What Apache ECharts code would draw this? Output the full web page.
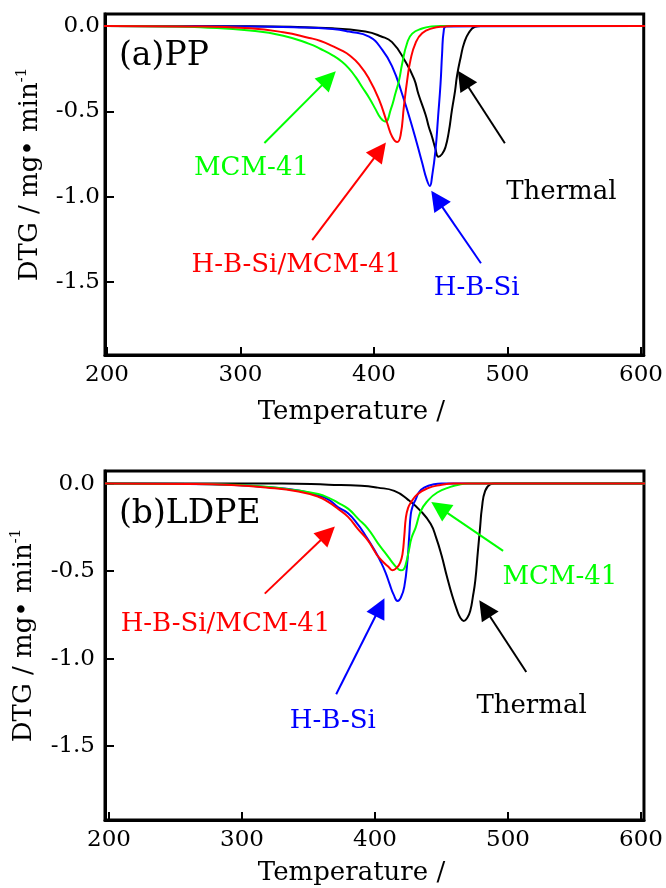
<!DOCTYPE html>
<html>
<head>
<meta charset="utf-8">
<script src="https://cdn.jsdelivr.net/npm/echarts@6/dist/echarts.min.js"></script>
<style>
  html, body { margin: 0; padding: 0; background: #fff; }
  #chart { width: 666px; height: 888px; }
</style>
</head>
<body>
<div id="chart"></div>
<script>
// series order: MCM-41, H-B-Si/MCM-41, H-B-Si, Thermal
var seriesNames = ['MCM-41', 'H-B-Si/MCM-41', 'H-B-Si', 'Thermal'];
var seriesColors = ['#00ff00', '#ff0000', '#0000ff', '#000000'];

var xTicks = [200, 300, 400, 500, 600];
var yTicks = [0, -0.5, -1, -1.5];

// (a) PP : [temperature, DTG]
var ppMcm = [[197, 0], [250, -0.003], [270, -0.008], [307, -0.027], [332, -0.057], [351.5, -0.105],
  [360, -0.135], [369, -0.172], [376, -0.21], [381.3, -0.25], [386.3, -0.30], [391.3, -0.36],
  [396.3, -0.42], [401.3, -0.49], [405, -0.54], [408.5, -0.56], [412.5, -0.49], [416.2, -0.39],
  [418.7, -0.32], [421.1, -0.22], [424.8, -0.10], [428.6, -0.045], [436, -0.015], [443, -0.003],
  [450, 0], [603, 0]];
var ppHbsMcm = [[197, 0], [260, -0.003], [307, -0.014], [332, -0.037], [351.5, -0.07], [360, -0.088],
  [369, -0.118], [376, -0.145], [381.3, -0.17], [388.8, -0.225], [396.3, -0.31], [403.7, -0.43],
  [409.9, -0.57], [413.7, -0.65], [417.4, -0.68], [419.9, -0.64], [422.4, -0.47], [424.8, -0.32],
  [427.3, -0.20], [431.1, -0.10], [436, -0.043], [443.5, -0.014], [453.5, -0.003], [460, 0], [603, 0]];
var ppHbs = [[197, 0], [300, -0.003], [340, -0.008], [369, -0.018], [381.3, -0.033], [396.3, -0.063],
  [406.2, -0.14], [413.7, -0.24], [421.1, -0.40], [428.6, -0.59], [436, -0.80], [439.5, -0.90],
  [441.8, -0.937], [443.5, -0.88], [446, -0.73], [448, -0.53], [449.8, -0.34], [451, -0.16],
  [452.2, -0.03], [454, -0.003], [603, 0]];
var ppThermal = [[197, 0], [300, -0.002], [369, -0.014], [393.5, -0.033], [405, -0.06], [413.5, -0.095],
  [423.6, -0.21], [430, -0.31], [433.3, -0.40], [438.6, -0.52], [441, -0.59], [443.5, -0.65],
  [446, -0.72], [448.2, -0.766], [451, -0.75], [453.5, -0.71], [456, -0.62], [458.4, -0.49],
  [460.7, -0.38], [462.2, -0.29], [465, -0.18], [467.5, -0.10], [471, -0.04], [475.6, -0.005],
  [480, 0], [603, 0]];

// (b) LDPE
var ldpeMcm = [[197, 0], [260, -0.002], [292, -0.007], [318, -0.018], [342.4, -0.04], [357.3, -0.06],
  [364.8, -0.08], [372.3, -0.11], [379.7, -0.143], [387.2, -0.2], [394.6, -0.257], [402.1, -0.34],
  [407.1, -0.39], [410.5, -0.425], [414.5, -0.465], [417, -0.485], [419.5, -0.495], [421.5, -0.49],
  [423.5, -0.45], [425.5, -0.38], [427.5, -0.31], [430.6, -0.25], [434.4, -0.157], [439.4, -0.10],
  [446.8, -0.051], [456.7, -0.019], [464.2, -0.004], [470, 0], [603, 0]];
var ldpeHbsMcm = [[197, 0], [260, -0.002], [292, -0.008], [318, -0.022], [342.4, -0.045], [357.3, -0.075],
  [364.8, -0.105], [372.3, -0.145], [379.7, -0.19], [387.2, -0.26], [394.6, -0.324], [399.6, -0.385],
  [402.1, -0.415], [407.1, -0.455], [410, -0.475], [413.3, -0.495], [416.5, -0.48], [419, -0.45],
  [420.7, -0.40], [422, -0.30], [423.2, -0.194], [424.8, -0.14], [426.9, -0.109], [431.9, -0.061],
  [439.4, -0.027], [449.3, -0.008], [459, 0], [603, 0]];
var ldpeHbs = [[197, 0], [260, -0.002], [292, -0.008], [318, -0.02], [342.4, -0.04], [357.3, -0.068],
  [364.8, -0.09], [372.3, -0.135], [379.7, -0.17], [387.2, -0.235], [392.2, -0.29], [399.6, -0.38],
  [404.5, -0.45], [408, -0.51], [411, -0.575], [414, -0.635], [417, -0.671], [419.5, -0.65],
  [422, -0.59], [424.5, -0.43], [425.7, -0.30], [426.9, -0.175], [428.5, -0.125], [430.6, -0.09],
  [433, -0.05], [436.9, -0.023], [444.4, -0.004], [450, 0], [603, 0]];
var ldpeThermal = [[197, 0], [330, 0], [365, -0.006], [389.6, -0.012], [402, -0.023], [414.5, -0.042],
  [424.5, -0.09], [434.4, -0.157], [441.8, -0.23], [446, -0.31], [450, -0.41], [454, -0.53],
  [458, -0.64], [461.5, -0.72], [464, -0.765], [466.7, -0.785], [469.5, -0.765], [471.7, -0.724],
  [473.5, -0.65], [475.4, -0.553], [477.3, -0.39], [479, -0.25], [480.4, -0.137], [482.8, -0.042],
  [486.6, -0.005], [490, 0], [603, 0]];

// annotations (data coordinates), same series order
var ppLabelAt = [[308.2, -0.832], [341.8, -1.40], [476.9, -1.535], [540.3, -0.972]];
var ppArrowFrom = [[317.9, -0.685], [353.7, -1.254], [480.1, -1.39], [498, -0.687]];
var ppArrowTo = [[366.1, -0.307], [404.4, -0.729], [447.1, -1.014], [466.9, -0.312]];

var ldpeLabelAt = [[539, -0.535], [287.6, -0.804], [368.3, -1.357], [517.7, -1.273]];
var ldpeArrowFrom = [[496.3, -0.385], [317.1, -0.629], [370.8, -1.204], [513.7, -1.077]];
var ldpeArrowTo = [[448.5, -0.137], [364.4, -0.285], [403.7, -0.707], [482.5, -0.714]];

var FONT = 'DejaVu Serif';

function makeSeries(panel, idx, data, labelAt, from, to) {
    var c = seriesColors[idx];
    return {
        type: 'line',
        name: seriesNames[idx],
        xAxisIndex: panel,
        yAxisIndex: panel,
        data: data,
        color: c,
        symbol: 'none',
        smooth: 0.5,
        lineStyle: { color: c, width: 2 },
        markLine: {
            silent: true,
            symbol: ['none', 'triangle'],
            symbolSize: 20,
            lineStyle: { color: c, width: 2, type: 'solid' },
            label: { show: false },
            data: [[{ coord: from }, { coord: to }]]
        },
        markPoint: {
            silent: true,
            symbol: 'circle',
            symbolSize: 0,
            label: {
                show: true,
                position: 'inside',
                formatter: seriesNames[idx],
                color: c,
                fontFamily: FONT,
                fontSize: 26
            },
            data: [{ coord: labelAt }]
        }
    };
}

function xAxisFor(panel, min, max, labelMargin, nameGap) {
    return {
        gridIndex: panel,
        type: 'value',
        min: min,
        max: max,
        axisLine: { show: true, onZero: false, lineStyle: { color: '#000', width: 3 } },
        axisTick: { show: true, inside: true, length: 8, customValues: xTicks, lineStyle: { color: '#000', width: 2 } },
        axisLabel: { customValues: xTicks, margin: labelMargin, color: '#000', fontFamily: FONT, fontSize: 23 },
        splitLine: { show: false },
        name: 'Temperature /',
        nameLocation: 'middle',
        nameGap: nameGap,
        nameTextStyle: { color: '#000', fontFamily: FONT, fontSize: 26, padding: [0, 46, 0, 0] }
    };
}

function yAxisFor(panel, min, max, labelMargin, nameGap) {
    return {
        gridIndex: panel,
        type: 'value',
        min: min,
        max: max,
        axisLine: { show: true, onZero: false, lineStyle: { color: '#000', width: 3 } },
        axisTick: { show: true, inside: true, length: 9, customValues: yTicks, lineStyle: { color: '#000', width: 2 } },
        axisLabel: {
            customValues: yTicks,
            margin: labelMargin,
            color: '#000',
            fontFamily: FONT,
            fontSize: 23,
            formatter: function(v) { return v.toFixed(1); }
        },
        splitLine: { show: false },
        name: '{m|DTG / mg• min}{s|-1}',
        nameLocation: 'middle',
        nameRotate: 90,
        nameGap: nameGap,
        nameTextStyle: {
            color: '#000',
            fontFamily: FONT,
            fontSize: 26,
            padding: [0, 0, 0, 20],
            rich: {
                m: { fontFamily: FONT, fontSize: 26, color: '#000', lineHeight: 30 },
                s: { fontFamily: FONT, fontSize: 15, color: '#000', verticalAlign: 'top' }
            }
        }
    };
}

var chart = echarts.init(document.getElementById('chart'), null, { renderer: 'canvas' });

var series = [];
[3, 2, 0, 1].forEach(function(i) {
    var pp = [ppMcm, ppHbsMcm, ppHbs, ppThermal][i];
    series.push(makeSeries(0, i, pp, ppLabelAt[i], ppArrowFrom[i], ppArrowTo[i]));
});
[3, 2, 0, 1].forEach(function(i) {
    var ld = [ldpeMcm, ldpeHbsMcm, ldpeHbs, ldpeThermal][i];
    series.push(makeSeries(1, i, ld, ldpeLabelAt[i], ldpeArrowFrom[i], ldpeArrowTo[i]));
});

chart.setOption({
    animation: false,
    backgroundColor: '#fff',
    title: [
        { text: '(a)PP', left: 119, top: 40, padding: 0,
          textStyle: { fontFamily: FONT, fontSize: 33, fontWeight: 'normal', color: '#000' } },
        { text: '(b)LDPE', left: 119, top: 498, padding: 0,
          textStyle: { fontFamily: FONT, fontSize: 33, fontWeight: 'normal', color: '#000' } }
    ],
    grid: [
        { left: 105, top: 14, width: 541, height: 341, show: true, borderColor: '#000', borderWidth: 3, backgroundColor: 'transparent' },
        { left: 105, top: 471, width: 543, height: 349, show: true, borderColor: '#000', borderWidth: 3, backgroundColor: 'transparent' }
    ],
    xAxis: [
        xAxisFor(0, 198.5, 602, 9, 44),
        xAxisFor(1, 197, 602.2, 9, 40)
    ],
    yAxis: [
        yAxisFor(0, -1.927, 0.07, 5, 60),
        yAxisFor(1, -1.923, 0.072, 10, 66)
    ],
    series: series
});
</script>
</body>
</html>
